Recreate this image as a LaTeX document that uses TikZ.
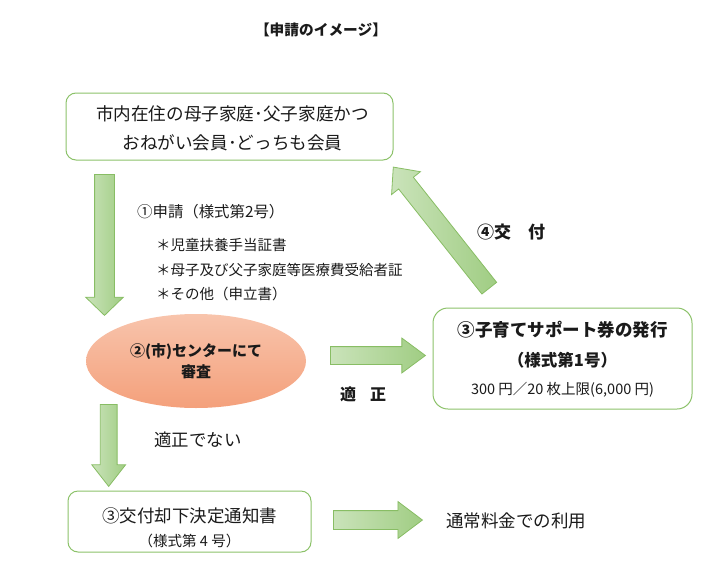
\documentclass[tikz,border=0pt]{standalone}
\usepackage{fontspec}
\setmainfont{Noto Sans CJK JP}
\usetikzlibrary{shapes.geometric,shapes.arrows,positioning}
\definecolor{flowline}{HTML}{88BD64}
\definecolor{flowlight}{HTML}{CAE3BA}
\definecolor{flowdark}{HTML}{A0CD83}
\definecolor{boxline}{HTML}{8CC26A}
\definecolor{ovaltop}{HTML}{F8C4AC}
\definecolor{ovalbottom}{HTML}{F4A07B}
\definecolor{inktext}{HTML}{1A1A1A}
\newcommand{\fsz}[1]{\fontsize{#1}{#1}\selectfont}
\tikzset{
  plaintext/.style={text=inktext, inner sep=0pt},
  roundbox/.style={draw=boxline, line width=1pt, rounded corners=10pt,
    fill=white, inner sep=0pt},
  ovalbox/.style={ellipse, top color=ovaltop, bottom color=ovalbottom,
    draw=none, align=center, text=inktext, inner sep=0pt,
    font=\bfseries\fontsize{15}{21}\selectfont},
  blockarrow/.style={single arrow, draw=flowline, line width=.8pt,
    inner xsep=0pt, left color=flowlight, right color=flowdark,
    anchor=tail}
}
\begin{document}
\begin{tikzpicture}[x=1pt,y=-1pt]
  \useasboundingbox (0,0) rectangle (703,570);
  % title and applicant box
  \node[plaintext, font=\bfseries\fsz{14.7}] (title) at (321,30) {【申請のイメージ】};
  \node[roundbox, minimum width=327pt, minimum height=67pt] (members) at (229.5,126.5) {};
  \node[plaintext, align=center, font=\fontsize{17.6}{29}\selectfont]
    (memberstext) at ([xshift=3pt,yshift=-2pt]members.center)
    {市内在住の母子家庭･父子家庭かつ\\おねがい会員･どっちも会員};

  % application
  \node[blockarrow, rotate=-90, minimum height=141pt, inner ysep=9.5pt,
    single arrow head extend=9pt, single arrow tip angle=92] (applyarrow) at (104.5,174) {};
  \node[plaintext, anchor=west, font=\fsz{15.4}] (apply) at (137,212) {①申請（様式第2号）};
  \node[plaintext, anchor=west, align=left, font=\fontsize{14.5}{24.5}\selectfont]
    (docs) at (156,270) {＊児童扶養手当証書\\＊母子及び父子家庭等医療費受給者証\\＊その他（申立書）};

  % review
  \node[ovalbox, minimum width=220pt, minimum height=94pt] (review) at (196,361)
    {②(市)センターにて\\審査};

  % approved branch
  \node[blockarrow, minimum height=95pt, inner ysep=8.5pt,
    single arrow head extend=8.5pt, single arrow tip angle=73] (okarrow) at (330,355.5) {};
  \node[plaintext, font=\bfseries\fsz{16}] (ok) at (363,394) {適\hspace{14pt}正};
  \node[roundbox, rounded corners=15pt, minimum width=259pt, minimum height=101pt]
    (ticket) at (562.5,358.5) {};
  \node[plaintext, font=\bfseries\fsz{17.5}] (tickettitle) at ([yshift=28.5pt]ticket.center)
    {③子育てサポート券の発行};
  \node[plaintext, font=\bfseries\fsz{16.5}] (ticketform) at ([yshift=-1.5pt]ticket.center)
    {（様式第1号）};
  \node[plaintext, font=\fsz{14.5}] (ticketlimit) at ([yshift=-31.5pt]ticket.center)
    {300 円／20 枚上限(6,000 円)};
  \node[blockarrow, rotate=128.4, minimum height=154.5pt, inner ysep=9pt,
    single arrow head extend=9pt, single arrow tip angle=84] (issuearrow) at (489.5,288.5) {};
  \node[plaintext, font=\bfseries\fsz{17}] (issue) at (511,232) {④交　付};

  % rejected branch
  \node[blockarrow, rotate=-90, minimum height=82pt, inner ysep=8pt,
    single arrow head extend=8.5pt, single arrow tip angle=76] (ngarrow) at (108.7,404) {};
  \node[plaintext, font=\fsz{17.4}] (ng) at (198,440) {適正でない};
  \node[roundbox, minimum width=243pt, minimum height=61pt] (notice) at (189.5,521.5) {};
  \node[plaintext, font=\fsz{17.5}] (noticetitle) at ([yshift=5.5pt]notice.center)
    {③交付却下決定通知書};
  \node[plaintext, font=\fsz{14.5}] (noticeform) at ([yshift=-19pt]notice.center)
    {（様式第 4 号）};
  \node[blockarrow, minimum height=89pt, inner ysep=9pt,
    single arrow head extend=9pt, single arrow tip angle=74] (regulararrow) at (333,520) {};
  \node[plaintext, font=\fsz{17.5}] (regular) at (516,521) {通常料金での利用};
\end{tikzpicture}
\end{document}
